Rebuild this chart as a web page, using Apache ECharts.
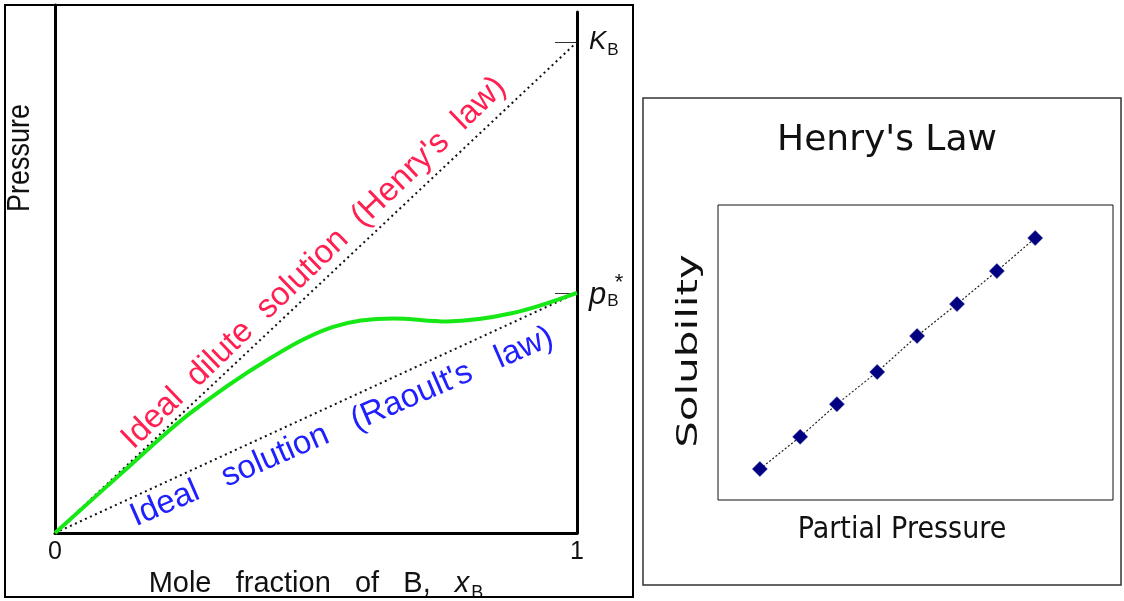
<!DOCTYPE html>
<html>
<head>
<meta charset="utf-8">
<script src="https://cdn.jsdelivr.net/npm/echarts@6/dist/echarts.min.js"></script>
<style>
  html, body { margin: 0; padding: 0; background: #fff; }
  #chart { width: 1124px; height: 601px; }
</style>
</head>
<body>
<div id="chart"></div>
<script>
// Vapour pressure of component B against its mole fraction (pressure in units of K_B)
const kB = 1.0;
const pBstar = 0.489;
const moleFraction = [0, 0.13, 0.259, 0.406, 0.533, 0.648, 0.751, 0.877, 1.0];
const realPressure = [0, 0.124, 0.244, 0.352, 0.420, 0.437, 0.431, 0.448, 0.489];
const xTickLabels = [0, 1];

// Henry's law panel: solubility against partial pressure
const partialPressure = [1.06, 2.08, 3.01, 4.03, 5.04, 6.05, 7.06, 8.03];
const solubility = [1.05, 2.14, 3.25, 4.34, 5.56, 6.64, 7.76, 8.88];

const SANS = '"Liberation Sans", Arial, sans-serif';
const VERA = '"DejaVu Sans", Verdana, sans-serif';

// plot area geometry of the pressure diagram
const plotLeft = 55, plotWidth = 522, plotBottom = 533;
const leftAxisTop = 5, rightAxisTop = 12, kBPixel = 42;
const pxPerUnit = (plotBottom - kBPixel) / kB;

const chart = echarts.init(document.getElementById('chart'), null, { renderer: 'canvas' });

const idealDilute = [[0, 0], [1, kB]];
const idealSolution = [[0, 0], [1, pBstar]];
const realCurve = moleFraction.map((x, i) => [x, realPressure[i]]);
const henryPoints = partialPressure.map((p, i) => [p, solubility[i]]);

const subRich = {
  fontFamily: SANS, fontSize: 17, lineHeight: 17, verticalAlign: 'top',
  padding: [13, 0, 0, 1], color: '#111'
};
const centered = { align: 'center', verticalAlign: 'middle', textAlign: 'center', textVerticalAlign: 'middle' };

const option = {
  animation: false,
  backgroundColor: '#fff',
  grid: [
    { left: plotLeft, top: leftAxisTop, width: plotWidth, height: plotBottom - leftAxisTop, outerBoundsMode: 'none' },
    { left: plotLeft, top: rightAxisTop, width: plotWidth, height: plotBottom - rightAxisTop, outerBoundsMode: 'none' },
    { left: 718, top: 205, width: 395, height: 295, show: true, borderColor: '#111', borderWidth: 1, backgroundColor: 'transparent', outerBoundsMode: 'none' }
  ],
  xAxis: [
    {
      gridIndex: 0, type: 'value', min: 0, max: 1, interval: 1,
      axisLine: { show: true, onZero: false, lineStyle: { color: '#000', width: 3 } },
      axisTick: { show: false },
      splitLine: { show: false },
      axisLabel: {
        show: true, customValues: xTickLabels, margin: 7,
        fontFamily: SANS, fontSize: 25, color: '#111'
      },
      name: '{t|Mole   fraction   of   B,   }{x|x}{b|B}',
      nameLocation: 'middle', nameGap: 33,
      nameTextStyle: {
        fontFamily: SANS, fontSize: 29, color: '#111',
        rich: {
          t: { fontFamily: SANS, fontSize: 29, lineHeight: 28, verticalAlign: 'top', color: '#111' },
          x: { fontFamily: SANS, fontSize: 29, lineHeight: 28, verticalAlign: 'top', fontStyle: 'italic', color: '#111' },
          b: Object.assign({}, subRich, { fontSize: 18, lineHeight: 18, padding: [14, 0, 0, 2] })
        }
      }
    },
    { gridIndex: 1, type: 'value', min: 0, max: 1, show: false },
    { gridIndex: 2, type: 'value', min: 0, max: 10, show: false }
  ],
  yAxis: [
    {
      gridIndex: 0, type: 'value', min: 0, max: (plotBottom - leftAxisTop) / pxPerUnit,
      axisLine: { show: true, onZero: false, lineStyle: { color: '#000', width: 3 } },
      axisTick: { show: false }, axisLabel: { show: false }, splitLine: { show: false }
    },
    {
      gridIndex: 1, type: 'value', position: 'right', min: 0, max: (plotBottom - rightAxisTop) / pxPerUnit,
      axisLine: { show: true, onZero: false, lineStyle: { color: '#000', width: 3 } },
      axisTick: {
        show: true, inside: true, length: 22, customValues: [kB, pBstar],
        lineStyle: { color: '#333', width: 1 }
      },
      splitLine: { show: false },
      axisLabel: {
        show: true, inside: false, margin: 12, customValues: [kB, pBstar],
        verticalAlign: 'middle',
        formatter: v => Math.abs(v - kB) < 1e-6 ? '{k|K}{b|B}' : '{p|p}{b|B}',
        rich: {
          k: { fontFamily: SANS, fontSize: 26, lineHeight: 26, verticalAlign: 'top', fontStyle: 'italic', color: '#111' },
          p: { fontFamily: SANS, fontSize: 31, lineHeight: 26, verticalAlign: 'top', fontStyle: 'italic', color: '#111' },
          b: subRich
        }
      }
    },
    { gridIndex: 2, type: 'value', min: 0, max: 10, show: false }
  ],
  series: [
    {
      name: 'Ideal dilute solution', type: 'line', xAxisIndex: 0, yAxisIndex: 0,
      data: idealDilute, symbol: 'none',
      lineStyle: { color: '#111', width: 2, type: [2, 3.5] }
    },
    {
      name: 'Ideal solution', type: 'line', xAxisIndex: 0, yAxisIndex: 0,
      data: idealSolution, symbol: 'none',
      lineStyle: { color: '#111', width: 2, type: [2, 3.5] }
    },
    {
      name: 'Real solution', type: 'line', xAxisIndex: 0, yAxisIndex: 0,
      data: realCurve, symbol: 'none', smooth: 0.35,
      lineStyle: { color: '#16e816', width: 4 }
    },
    {
      name: 'Solubility', type: 'line', xAxisIndex: 2, yAxisIndex: 2,
      data: henryPoints, symbol: 'diamond', symbolSize: 15,
      itemStyle: { color: '#000080', borderColor: '#1a1a90', borderWidth: 0.5 },
      lineStyle: { color: '#222', width: 1.2, type: [2, 2] }
    }
  ],
  graphic: {
    elements: [
      { type: 'rect', id: 'frameLeft', shape: { x: 5, y: 5, width: 628, height: 592 },
        style: { fill: 'none', stroke: '#000', lineWidth: 2 }, z: 10 },
      { type: 'rect', id: 'frameRight', shape: { x: 643, y: 98, width: 478, height: 487 },
        style: { fill: 'none', stroke: '#333', lineWidth: 1.5 }, z: 10 },
      { type: 'text', id: 'pressureLabel', x: 20, y: 158, rotation: Math.PI / 2, scaleY: 1.15,
        style: Object.assign({ text: 'Pressure', font: '27px ' + SANS, fill: '#111' }, centered) },
      { type: 'text', id: 'henryLine', x: 314, y: 263, rotation: 0.768,
        style: Object.assign({ text: "Ideal  dilute  solution  (Henry's  law)", font: '33px ' + SANS, fill: '#ff1f50' }, centered) },
      { type: 'text', id: 'raoultLine', x: 342, y: 427, rotation: 0.41,
        style: Object.assign({ text: "Ideal   solution   (Raoult's   law)", font: '33px ' + SANS, fill: '#2020ff' }, centered) },
      { type: 'text', id: 'henryTitle', x: 887, y: 141,
        style: Object.assign({ text: "Henry's Law", font: '36px ' + VERA, fill: '#111' }, centered) },
      { type: 'text', id: 'solubilityLabel', x: 690, y: 351, rotation: Math.PI / 2, scaleX: 1.5,
        style: Object.assign({ text: 'Solubility', font: '28px ' + VERA, fill: '#111' }, centered) },
      { type: 'text', id: 'partialLabel', x: 902, y: 530, scaleY: 1.1,
        style: Object.assign({ text: 'Partial Pressure', font: '27px ' + VERA, fill: '#111' }, centered) }
    ]
  }
};

chart.setOption(option);

// the star of p*_B sits above its subscript, next to the axis tick
const pt = chart.convertToPixel({ xAxisIndex: 1, yAxisIndex: 1 }, [1, pBstar]);
chart.setOption({
  graphic: {
    elements: [
      { type: 'text', id: 'pStar', x: pt[0] + 42, y: pt[1] - 10,
        style: Object.assign({ text: '*', font: '22px ' + SANS, fill: '#111' }, centered) }
    ]
  }
});
</script>
</body>
</html>
